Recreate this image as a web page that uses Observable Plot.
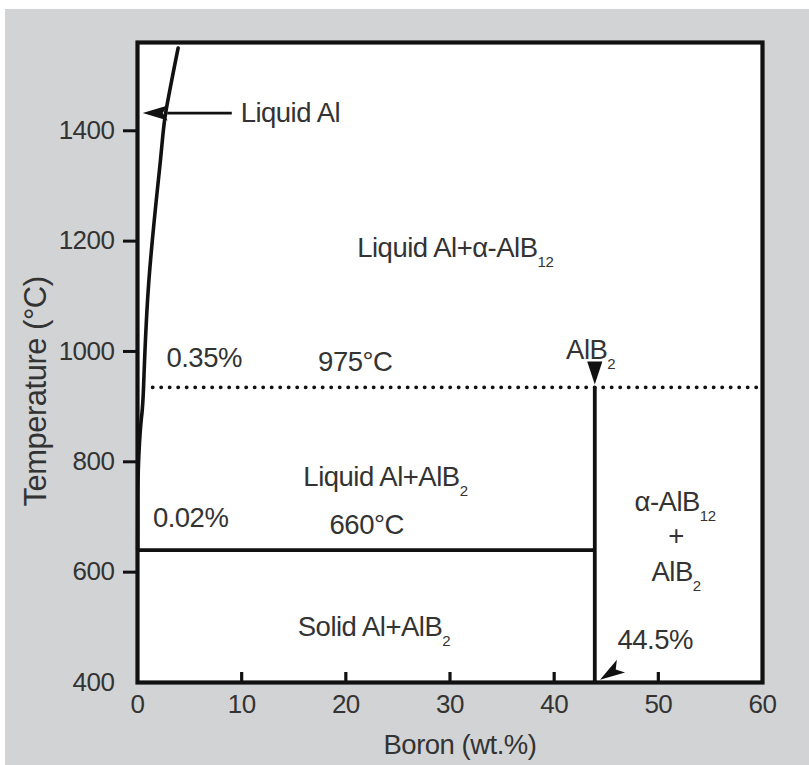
<!DOCTYPE html>
<html>
<head>
<meta charset="utf-8">
<script src="https://cdn.jsdelivr.net/npm/d3@7"></script>
<script src="https://cdn.jsdelivr.net/npm/@observablehq/plot@0.6"></script>
<style>
  html, body { margin: 0; padding: 0; background: #ffffff; }
  #box { position: absolute; left: 5px; top: 9px; width: 804px; height: 756px; background: #d2d3d5; }
  #box svg { display: block; }
  #box svg text { letter-spacing: -0.5px; }
</style>
</head>
<body>
<div id="box"></div>
<script>
// ---- data ----
const xTicks = [0, 10, 20, 30, 40, 50, 60];
const xInnerTicks = [10, 20, 30, 40, 50];
const yTicks = [600, 800, 1000, 1200, 1400];
const yBottomTick = [400];

// liquidus curve (Boron wt.%, Temperature °C)
const liquidusB = [0.02, 0.03, 0.15, 0.38, 0.58, 1.1, 2.2, 2.7, 3.9];
const liquidusT = [640, 740, 820, 880, 935, 1130, 1346, 1432, 1550];

// horizontal invariant lines
const peritecticT = 935;      // dotted line (labelled 975 °C)
const peritecticB = [1.5, 60];
const solidusT = 640;         // solid line (labelled 660 °C)
const solidusB = [0, 43.9];
// AlB2 vertical line
const alb2B = 43.9;
const alb2T = [935, 400];

// "Liquid Al" leader line
const leaderB = [2.9, 9.1];
const leaderT = 1432;

// arrow heads: tip position and direction (degrees, clockwise from +x)
const headB = [0.5, 43.9, 44.4];
const headT = [1432, 940, 405];
const headAngle = [180, 90, 147];
const headLen = [25, 23, 25];
const headNotch = [0.8, 1.0, 0.75];
const headWidth = [0.3, 0.33, 0.3];

// region labels
const labelText = ["Liquid Al", "Liquid Al+α-AlB_12", "AlB_2", "0.35%", "975°C",
  "Liquid Al+AlB_2", "0.02%", "660°C", "α-AlB_12", "+", "AlB_2", "Solid Al+AlB_2", "44.5%"];
const labelB = [9.9, 30.5, 43.5, 6.4, 20.9, 23.8, 5.1, 22.0, 51.6, 51.7, 51.7, 22.7, 49.7];
const labelT = [1432, 1187, 1003, 987, 980, 773, 697, 685, 726, 665, 600, 501, 476];
const labelAnchor = ["start", "middle", "middle", "middle", "middle", "middle", "middle",
  "middle", "middle", "middle", "middle", "middle", "middle"];

// ---- build tables ----
const liquidus = liquidusB.map((b, i) => ({b, t: liquidusT[i]}));
const heads = headB.map((b, i) => ({b, t: headT[i], a: headAngle[i], len: headLen[i], notch: headNotch[i], w: headWidth[i]}));
const labels = labelText.map((s, i) => ({s, b: labelB[i], t: labelT[i], anchor: labelAnchor[i]}));

function arrowSymbol(notch, w) {
  return {
    draw(ctx, size) {
      const L = Math.sqrt(size / Math.PI);
      const W = L * w;
      ctx.moveTo(0, 0);
      ctx.lineTo(-L, -W);
      ctx.lineTo(-L * notch, 0);
      ctx.lineTo(-L, W);
      ctx.closePath();
    }
  };
}

const FONT = '"Liberation Sans", Arial, Helvetica, sans-serif';
const FS = 26;      // tick labels
const LFS = 27.5;   // region labels
const INK = "#111";
const TXT = "#333";

const headMarks = heads.map(h => Plot.dot([h], {
  x: "b", y: "t", r: h.len, rotate: h.a,
  symbol: arrowSymbol(h.notch, h.w), fill: INK, stroke: "none"
}));

const labelMarks = ["start", "middle"].map(anchor => Plot.text(labels.filter(d => d.anchor === anchor), {
  x: "b", y: "t", text: "s", textAnchor: anchor, fill: TXT, fontSize: LFS
}));

const chart = Plot.plot({
  width: 804,
  height: 756,
  marginLeft: 132,
  marginRight: 47,
  marginTop: 33,
  marginBottom: 83,
  style: {background: "transparent", fontFamily: FONT, fontSize: FS + "px", color: TXT},
  x: {domain: [0, 60]},
  y: {domain: [400, 1560]},
  marks: [
    Plot.frame({fill: "white", stroke: "none"}),
    // axes
    Plot.axisY({ticks: yTicks, tickSize: 14, tickPadding: 9, strokeWidth: 3, stroke: INK, fill: TXT, fontSize: FS, label: null, tickFormat: d => String(d)}),
    Plot.axisY({ticks: yBottomTick, tickSize: 0, tickPadding: 23, fill: TXT, fontSize: FS, label: null, tickFormat: d => String(d)}),
    Plot.axisX({ticks: xInnerTicks, tickSize: -10, strokeWidth: 3.2, stroke: INK, tickFormat: () => "", label: null}),
    Plot.axisX({ticks: xTicks, tickSize: 0, tickPadding: 12, fill: TXT, fontSize: FS, label: null, tickFormat: d => String(d)}),
    // phase boundaries
    Plot.line(liquidus, {x: "b", y: "t", curve: "natural", stroke: INK, strokeWidth: 3.6}),
    Plot.ruleY([peritecticT], {x1: peritecticB[0], x2: peritecticB[1], stroke: INK, strokeWidth: 3.8, strokeDasharray: "0.1 8.4", strokeLinecap: "round"}),
    Plot.ruleY([solidusT], {x1: solidusB[0], x2: solidusB[1], stroke: INK, strokeWidth: 3.6}),
    Plot.ruleX([alb2B], {y1: alb2T[0], y2: alb2T[1], stroke: INK, strokeWidth: 3.8}),
    Plot.ruleY([leaderT], {x1: leaderB[0], x2: leaderB[1], stroke: INK, strokeWidth: 2.6}),
    ...headMarks,
    ...labelMarks,
    // axis titles
    Plot.text(["Boron (wt.%)"], {frameAnchor: "bottom", textAnchor: "middle", lineAnchor: "middle", dy: 63, dx: 10, fill: TXT, fontSize: 27.5}),
    Plot.text(["Temperature (°C)"], {frameAnchor: "left", textAnchor: "middle", lineAnchor: "middle", rotate: -90, dx: -101, dy: 29, fill: TXT, fontSize: 31}),
    Plot.frame({stroke: INK, strokeWidth: 4.2})
  ]
});

// subscripts: "_digits" at end of a label
d3.select(chart).selectAll("text").each(function () {
  const el = d3.select(this);
  if (this.querySelector("tspan")) return;
  const s = this.textContent;
  const m = s.match(/^(.*)_(\d+)$/);
  if (!m) return;
  el.text(null);
  el.append("tspan").text(m[1]);
  el.append("tspan").attr("font-size", 15).attr("dy", 10).text(m[2]);
});

document.getElementById("box").appendChild(chart);
</script>
</body>
</html>
